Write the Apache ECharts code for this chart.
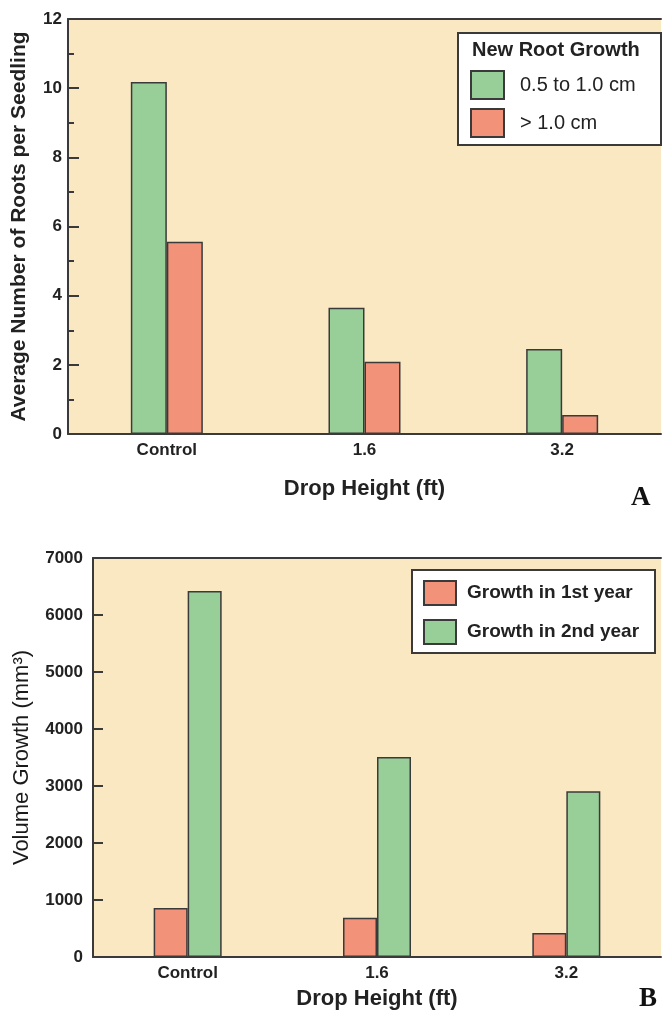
<!DOCTYPE html>
<html><head><meta charset="utf-8">
<script src="https://cdn.jsdelivr.net/npm/echarts@6/dist/echarts.min.js"></script>
<style>html,body{margin:0;padding:0;background:#fff}#c{width:663px;height:1017px}</style>
</head><body><div id="c"></div>
<script>
// ---- data ----
const categories = ['Control', '1.6', '3.2'];
const rootsSmallName = '0.5 to 1.0 cm';
const rootsLargeName = '> 1.0 cm';
const rootsSmall = [10.18, 3.65, 2.46];
const rootsLarge = [5.56, 2.09, 0.55];
const growthYear1Name = 'Growth in 1st year';
const growthYear2Name = 'Growth in 2nd year';
const growthYear1 = [860, 690, 420];
const growthYear2 = [6420, 3510, 2910];
const rootsAxis = [0, 12, 2];      // min, max, interval
const growthAxis = [0, 7000, 1000];

const FONT = '"Liberation Sans", Arial, Helvetica, sans-serif';
const GREEN = '#98CF98', RED = '#F29278', BG = '#F9E8C1', DARK = '#3a3a3a';

const chart = echarts.init(document.getElementById('c'));
const barStyle = c => ({ color: c, borderColor: DARK, borderWidth: 1.5 });
const catAxis = (g, name, gap) => ({
  type: 'category', gridIndex: g, data: categories, boundaryGap: true,
  axisLine: { lineStyle: { color: DARK, width: 2 } }, axisTick: { show: false },
  axisLabel: { color: '#222', fontFamily: FONT, fontWeight: 'bold', fontSize: 17, margin: 8 },
  name: name, nameLocation: 'middle', nameGap: gap,
  nameTextStyle: { color: '#222', fontFamily: FONT, fontWeight: 'bold', fontSize: 22 }
});
const topLine = g => ({
  type: 'category', gridIndex: g, data: categories, position: 'top',
  axisLine: { lineStyle: { color: DARK, width: 2 } }, axisTick: { show: false }, axisLabel: { show: false }
});

chart.setOption({
  animation: false,
  backgroundColor: '#fff',
  grid: [
    { left: 68, top: 19, right: 2, height: 415, show: true, backgroundColor: BG, borderWidth: 0 },
    { left: 93, top: 558, right: 2, height: 399, show: true, backgroundColor: BG, borderWidth: 0 }
  ],
  xAxis: [catAxis(0, 'Drop Height (ft)', 44), catAxis(1, 'Drop Height (ft)', 31), topLine(0), topLine(1)],
  yAxis: [
    { type: 'value', gridIndex: 0, min: rootsAxis[0], max: rootsAxis[1], interval: rootsAxis[2],
      axisLine: { show: true, lineStyle: { color: DARK, width: 2 } },
      axisTick: { show: true, inside: true, length: 11, lineStyle: { color: DARK, width: 2 } },
      minorTick: { show: true, splitNumber: 2, length: 6, lineStyle: { color: DARK, width: 2 } },
      splitLine: { show: false },
      axisLabel: { color: '#222', fontFamily: FONT, fontWeight: 'bold', fontSize: 17, margin: 6 },
      name: 'Average Number of Roots per Seedling', nameLocation: 'middle', nameGap: 38, nameRotate: 90,
      nameTextStyle: { color: '#222', fontFamily: FONT, fontWeight: 'bold', fontSize: 21 } },
    { type: 'value', gridIndex: 1, min: growthAxis[0], max: growthAxis[1], interval: growthAxis[2],
      axisLine: { show: true, lineStyle: { color: DARK, width: 2 } },
      axisTick: { show: true, inside: true, length: 10, lineStyle: { color: DARK, width: 2 } },
      splitLine: { show: false },
      axisLabel: { color: '#222', fontFamily: FONT, fontWeight: 'bold', fontSize: 17, margin: 10,
                   formatter: v => String(v) },
      name: 'Volume Growth (mm³)', nameLocation: 'middle', nameGap: 60, nameRotate: 90,
      nameTextStyle: { color: '#1a1a1a', fontFamily: FONT, fontSize: 22 } }
  ],
  legend: [
    { data: [rootsSmallName, rootsLargeName], orient: 'vertical', left: 470, top: 70, padding: 0, z: 20,
      itemWidth: 33, itemHeight: 28, itemGap: 8, icon: 'rect',
      textStyle: { color: '#222', fontFamily: FONT, fontSize: 20, padding: [0, 0, 0, 11] } },
    { data: [growthYear1Name, growthYear2Name], orient: 'vertical', left: 423, top: 580, padding: 0, z: 20,
      itemWidth: 32, itemHeight: 24, itemGap: 13, icon: 'rect',
      textStyle: { color: '#222', fontFamily: FONT, fontWeight: 'bold', fontSize: 19, padding: [0, 0, 0, 6] } }
  ],
  graphic: [
    { type: 'rect', z: 3, shape: { x: 458, y: 33, width: 203, height: 112 },
      style: { fill: '#fff', stroke: DARK, lineWidth: 2 } },
    { type: 'text', z: 21, x: 472, y: 40,
      style: { text: 'New Root Growth', fill: '#222', font: 'bold 20px ' + FONT } },
    { type: 'rect', z: 3, shape: { x: 412, y: 570, width: 243, height: 83 },
      style: { fill: '#fff', stroke: DARK, lineWidth: 2 } },
    { type: 'text', z: 21, x: 631, y: 485,
      style: { text: 'A', fill: '#111', font: 'bold 27px "Liberation Serif", "DejaVu Serif", serif' } },
    { type: 'text', z: 21, x: 639, y: 986,
      style: { text: 'B', fill: '#111', font: 'bold 27px "Liberation Serif", "DejaVu Serif", serif' } }
  ],
  series: [
    { name: rootsSmallName, type: 'bar', xAxisIndex: 0, yAxisIndex: 0, data: rootsSmall,
      barWidth: 36, barGap: '0%', itemStyle: barStyle(GREEN) },
    { name: rootsLargeName, type: 'bar', xAxisIndex: 0, yAxisIndex: 0, data: rootsLarge,
      barWidth: 36, barGap: '0%', itemStyle: barStyle(RED) },
    { name: growthYear1Name, type: 'bar', xAxisIndex: 1, yAxisIndex: 1, data: growthYear1,
      barWidth: 34, barGap: '0%', itemStyle: barStyle(RED) },
    { name: growthYear2Name, type: 'bar', xAxisIndex: 1, yAxisIndex: 1, data: growthYear2,
      barWidth: 34, barGap: '0%', itemStyle: barStyle(GREEN) }
  ]
});
</script></body></html>
